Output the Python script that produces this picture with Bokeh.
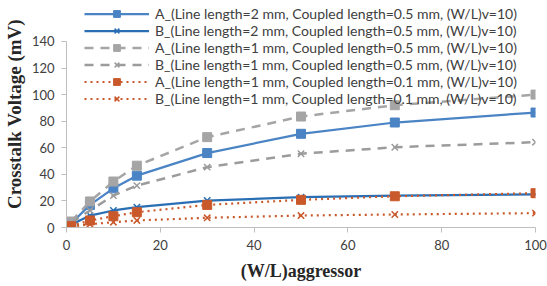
from bokeh.plotting import figure
from bokeh.models import Legend, LegendItem, FixedTicker, Range1d
from bokeh.embed import file_html
from bokeh.resources import INLINE

x_vals = [1, 5, 10, 15, 30, 50, 70, 100]

a_2mm_05 = [3, 17, 29.5, 39, 56, 70.5, 79, 86.5]
b_2mm_05 = [2, 9, 12.8, 15.3, 20.3, 22.8, 24, 25]
a_1mm_05 = [4.5, 19.6, 34.6, 46.5, 68, 83.5, 92, 100]
b_1mm_05 = [3.5, 12.8, 24, 31.5, 45.4, 55.5, 60.4, 64.2]
a_1mm_01 = [1, 5.3, 8.5, 11.5, 17, 20.8, 23.5, 25.8]
b_1mm_01 = [0.5, 2.5, 4, 5.3, 7.3, 9, 9.8, 10.8]

labels = [
    "A_(Line length=2 mm, Coupled length=0.5 mm, (W/L)v=10)",
    "B_(Line length=2 mm, Coupled length=0.5 mm, (W/L)v=10)",
    "A_(Line length=1 mm, Coupled length=0.5 mm, (W/L)v=10)",
    "B_(Line length=1 mm, Coupled length=0.5 mm, (W/L)v=10)",
    "A_(Line length=1 mm, Coupled length=0.1 mm, (W/L)v=10)",
    "B_(Line length=1 mm, Coupled length=0.1 mm, (W/L)v=10)",
]

x_ticks = [0, 20, 40, 60, 80, 100]
y_ticks = [0, 20, 40, 60, 80, 100, 120, 140]
x_title = "(W/L)aggressor"
y_title = "Crosstalk Voltage (mV)"

p = figure(width=547, height=286, output_backend="svg", toolbar_location=None,
           x_range=Range1d(0, 100), y_range=Range1d(0, 170.8),
           min_border_left=64, min_border_right=12, min_border_top=0, min_border_bottom=59)
p.outline_line_color = None
p.xgrid.visible = False
p.ygrid.visible = False

series = [
    (a_2mm_05, "#4A84C4", "solid", "square", 2.25),
    (b_2mm_05, "#2A6FB4", "solid", "x", 2.25),
    (a_1mm_05, "#A5A5A5", "9 7", "square", 2.5),
    (b_1mm_05, "#9C9C9C", "9 7", "x", 2.5),
    (a_1mm_01, "#C9592B", "2 4", "square", 2.2),
    (b_1mm_01, "#C9592B", "2 4", "x", 2.2),
]

items = []
for (ys, color, dash, marker, lw), lab in zip(series, labels):
    r1 = p.line(x_vals, ys, line_color=color, line_width=lw, line_dash=dash)
    if marker == "square":
        r2 = p.scatter(x_vals, ys, marker="square", size=9, fill_color=color, line_color=color)
    else:
        r2 = p.scatter(x_vals, ys, marker="x", size=9, line_color=color, line_width=1.5)
    items.append(LegendItem(label=lab, renderers=[r1, r2]))

legend = Legend(items=items, location=(18, 120), glyph_width=65, glyph_height=17,
                label_height=17, spacing=0, padding=0, margin=0, label_standoff=6,
                border_line_color=None, background_fill_alpha=0,
                label_text_font="Lato", label_text_font_size="14px",
                label_text_color="#404040")
p.add_layout(legend, "center")

for ax, ticks in ((p.xaxis, x_ticks), (p.yaxis, y_ticks)):
    ax.ticker = FixedTicker(ticks=ticks)
    ax.axis_line_color = "#BFBFBF"
    ax.major_tick_line_color = "#BFBFBF"
    ax.minor_tick_line_color = None
    ax.major_tick_out = 5
    ax.major_tick_in = 0
    ax.major_label_text_font = "Lato"
    ax.major_label_text_font_size = "13px"
    ax.major_label_text_color = "#404040"
    ax.major_label_standoff = 7
    ax.axis_label_text_font = "Liberation Serif"
    ax.axis_label_text_font_style = "bold"
    ax.axis_label_text_color = "#262626"

p.xaxis.bounds = (0, 100)
p.yaxis.bounds = (0, 140)
p.xaxis.axis_label = x_title
p.yaxis.axis_label = y_title
p.xaxis.axis_label_text_font_size = "18px"
p.yaxis.axis_label_text_font_size = "19px"
p.xaxis.axis_label_standoff = 8
p.yaxis.axis_label_standoff = 4

open("out.html", "w").write(file_html(p, INLINE))
